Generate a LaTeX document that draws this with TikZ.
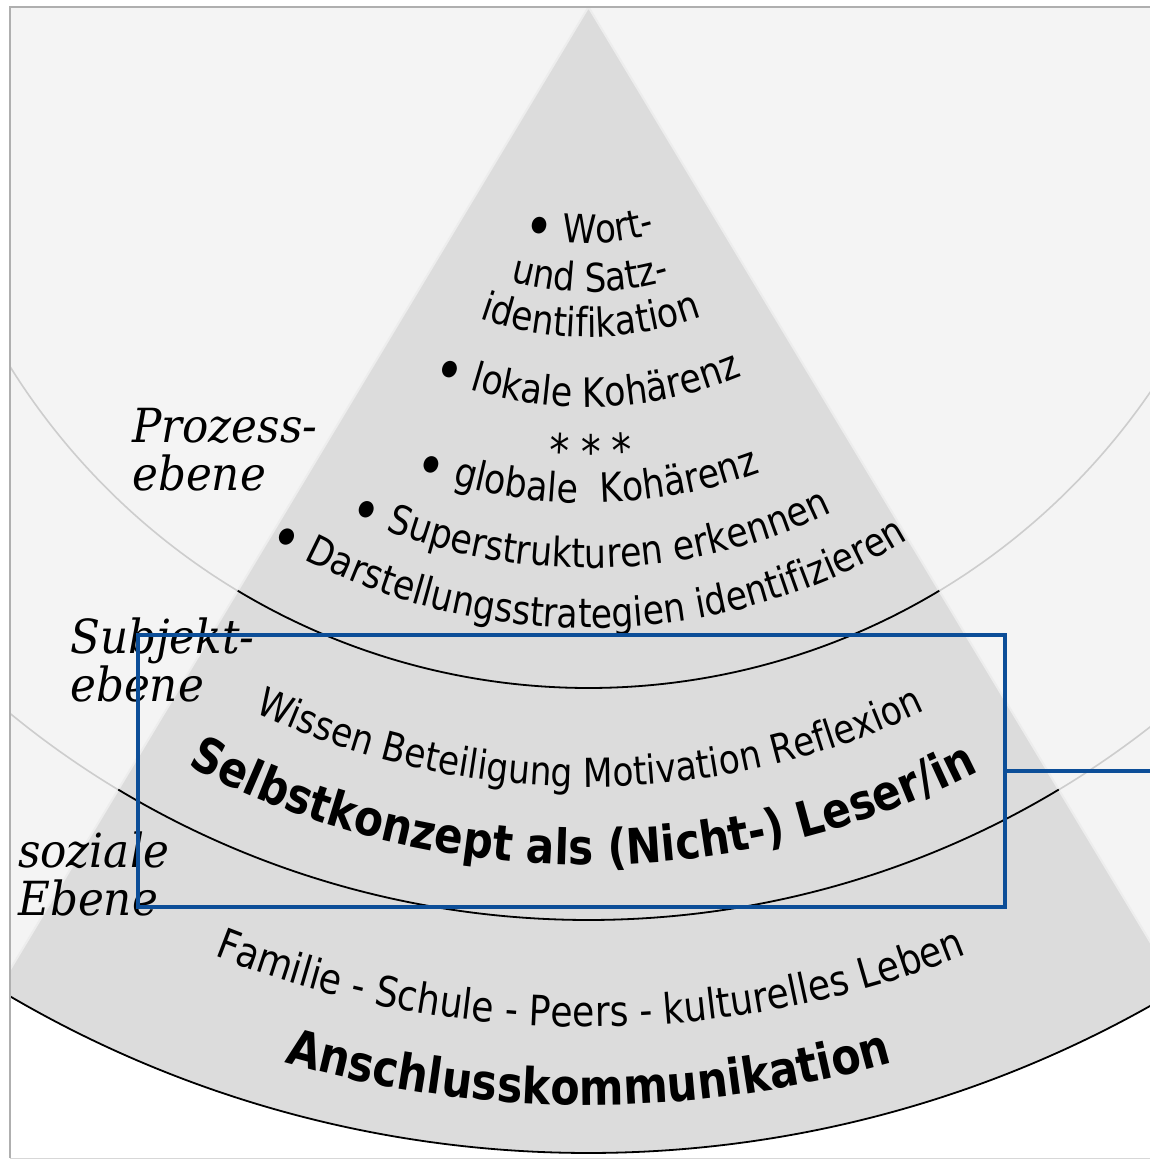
\documentclass[tikz,border=0pt]{standalone}
\usepackage{fontspec}
\usetikzlibrary{decorations.text}
\newfontfamily\arcfont{DejaVu Sans}[FakeStretch=0.86]
\newfontfamily\levelfont{DejaVu Serif}[FakeStretch=0.93]
\definecolor{panelgray}{RGB}{244,244,244}
\definecolor{wedgegray}{RGB}{220,220,220}
\definecolor{ringgray}{RGB}{205,205,205}
\definecolor{framegray}{RGB}{175,175,175}
\definecolor{focusblue}{RGB}{12,78,152}
\def\drawring{\draw[black, line width=1.8]}
\def\levelnode{\node[anchor=base west,align=left,inner sep=0,font=\levelfont\itshape\fontsize{47}{48}\selectfont]}
\def\arctext#1#2#3#4{\path[decorate,decoration={text along path,text align=center,text={|\arcfont#3|#4}}] (#2-40:#1) arc[start angle=#2-40,end angle=#2+40,radius=#1];}
\def\bul{{\fontsize{58}{58}\selectfont\raisebox{-10pt}{•}}}

\begin{document}
\begin{tikzpicture}[x=1pt,y=1pt]
\useasboundingbox (-588.5,-1153) rectangle (561.5,7);
\begin{scope}
\clip (-578.5,-1151) rectangle (575,0);
\fill[panelgray] (0,0) circle (1146);
\fill[wedgegray] (0,0) -- (239:1146) arc[start angle=239,end angle=301,radius=1146] -- cycle;
\draw[white!50!wedgegray, line width=2] (239:1146) -- (0,0) -- (301:1146);
\draw[ringgray, line width=1.6] (0,0) circle (681) (0,0) circle (913);
\drawring (239:681) arc[start angle=239,end angle=301,radius=681];
\drawring (239:913) arc[start angle=239,end angle=301,radius=913];
\drawring (239:1146) arc[start angle=239,end angle=301,radius=1146];
\end{scope}
\draw[framegray, line width=1.5] (575,0) -- (-578.5,0) -- (-578.5,-1151);
\draw[framegray!50, line width=1] (-578.5,-1151) -- (575,-1151);

\arctext{236}{270.2}{\fontsize{39.5}{40}\selectfont}{\bul{} Wort-}
\arctext{285}{270.4}{\fontsize{39.6}{40}\selectfont}{und Satz-}
\arctext{330}{270.4}{\fontsize{40.2}{40}\selectfont}{identifikation}
\arctext{400}{269.8}{\fontsize{40.5}{40}\selectfont}{\bul{} lokale Kohärenz}
\arctext{461}{270.3}{\fontsize{46}{46}\selectfont}{* * *}
\arctext{496}{269.8}{\fontsize{40.5}{40}\selectfont}{\bul{} globale {~}Kohärenz}
\arctext{561}{270.2}{\fontsize{40.5}{40}\selectfont}{\bul{} Superstrukturen erkennen}
\arctext{621}{270}{\fontsize{40.2}{40}\selectfont}{\bul{} Darstellungsstrategien identifizieren}
\arctext{780}{270.1}{\fontsize{40}{40}\selectfont}{Wissen Beteiligung Motivation Reflexion}
\arctext{858}{269.6}{\bfseries\fontsize{49}{50}\selectfont}{Selbstkonzept als (Nicht-) Leser/in}
\arctext{1020}{270.1}{\fontsize{42}{42}\selectfont}{Familie - Schule - Peers - kulturelles Leben}
\arctext{1098}{270}{\bfseries\fontsize{49.8}{50}\selectfont}{Anschlusskommunikation}

\levelnode (prozess) at (-456.5,-483) {Prozess-\\ebene};
\levelnode (subjekt) at (-518.5,-694) {Subjekt-\\ebene};
\levelnode (sozial) at (-570.5,-908) {soziale\\Ebene};

\node[draw=focusblue, line width=4.5, minimum width=867, minimum height=272, inner sep=0] (focus) at (-17,-764) {};
\coordinate (exit) at (575,-764);
\draw[focusblue, line width=4.5] (focus.east) -- (exit);
\end{tikzpicture}
\end{document}
